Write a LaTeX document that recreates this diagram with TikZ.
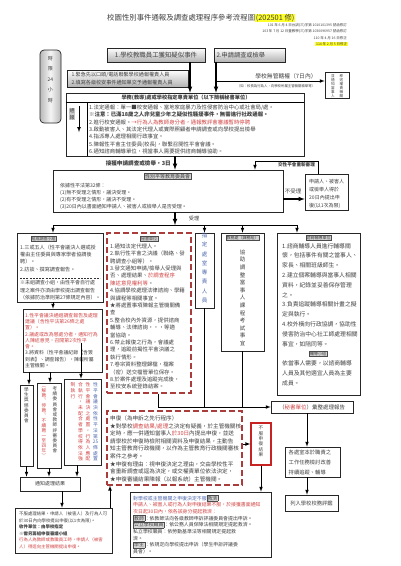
\documentclass[tikz,border=0pt]{standalone}
\usepackage{tikz}
\usepackage{fontspec}
\setmainfont{Noto Sans CJK TC}
\definecolor{ink}{RGB}{65,65,65}
\definecolor{redink}{RGB}{210,70,70}
\definecolor{blueink}{RGB}{80,105,175}
\definecolor{dashred}{RGB}{170,60,60}
\definecolor{boxred}{RGB}{200,35,35}
\definecolor{marker}{RGB}{255,255,40}
\setlength{\fboxsep}{0.6pt}
\setlength{\fboxrule}{0.3pt}
\newcommand\fsz[2]{\fontsize{#1}{#2}\selectfont}
\newcommand\redtx[1]{\textcolor{redink}{#1}}
\newcommand\bluetx[1]{\textcolor{blueink}{#1}}
\newcommand\boxtag[1]{\fcolorbox{black!70}{gray!30}{#1}}
% vertical text: one character per line
\newcommand\vstack[1]{\vstackfirst#1\relax}
\def\vstackfirst#1{#1\vstackloop}
\def\vstackloop#1{\ifx#1\relax\else\\#1\expandafter\vstackloop\fi}

\begin{document}
\begin{tikzpicture}[x=1pt, y=-1pt, >=latex,
    box/.style={draw=black!85, line width=0.7pt, inner sep=0pt, text=ink},
    shadebox/.style={box, top color=white, bottom color=gray!60},
    dashbox/.style={draw=dashred, line width=1.2pt, dash pattern=on 6pt off 3pt, inner sep=0pt},
    redbox/.style={draw=boxred, line width=1.4pt, inner sep=0pt},
    txt/.style={anchor=north west, inner sep=0pt, align=left, text=ink},
    vtxt/.style={anchor=north, inner sep=0pt, align=center, text=ink},
    note/.style={anchor=east, inner sep=0pt, text=ink, font=\fsz{3.5}{4}},
    lbl/.style={draw=black!70, fill=gray!35, line width=0.3pt, inner sep=0.7pt, text=ink, font=\fsz{4}{4.5}},
    flow/.style={draw=black, line width=0.7pt},
    mainflow/.style={draw=black, line width=1.1pt},
  ]
  \useasboundingbox (0,0) rectangle (400,566);
  \fill[white] (0,0) rectangle (400,566);

  % title and revisions
  \node[anchor=west, inner sep=0pt, text=ink, font=\fsz{7.4}{8}] (title) at (107,18) {校園性別事件通報及調查處理程序參考流程圖\colorbox{marker}{(202501 修)}};
  \node[note] (rev1) at (347,25) {101 年 6 月 4 日台訓(三)字第 1010101395 號函修訂};
  \node[note] (rev2) at (347,31) {103 年 7 月 12 日臺教學(三)字第 1030096957 號函修訂};
  \node[note] (rev3) at (347,38) {110 年 4 月 16 日修正};
  \node[note] (rev4) at (348,44) {\colorbox{marker}{114 年 2 月 5 日修正}};

  % time limit
  \node[box, rounded corners=4pt, minimum width=21, minimum height=73, left color=gray!55, right color=gray!55, middle color=gray!8] (limit) at (50.5,86.5) {};
  \node[vtxt, font=\fsz{5}{10.5}] (limittext) at (50.5,55.8) {\vstack{時限{24}小時}};

  % report
  \node[shadebox, minimum width=98, minimum height=14, font=\fsz{6.4}{7}] (rep1) at (156,55) {1.學校教職員工獲知疑似事件};
  \node[shadebox, minimum width=71, minimum height=14, text width=66, align=left, font=\fsz{6.2}{7}] (rep2) at (249.5,55) {2.申請調查或檢舉};
  \node[shadebox, minimum width=121, minimum height=17, text width=112, align=left, font=\fsz{5.1}{8}] (urgent) at (127.5,78.5) {1.緊急先以口頭/電話聯繫學校通報權責人員\\2.填寫各級校安事件通知單交予通報權責人員};
  \node[inner sep=0pt, text=ink, font=\fsz{5.8}{6}] (nojur) at (286,76) {學校無管轄權（7日內）};
  \node[inner sep=0pt, text=ink, font=\fsz{3.4}{4}] (nojurnote) at (276,86.5) {（如：校長為行為人，向學校所屬主管機關檢舉等）};
  \node[box, minimum width=24, minimum height=26] (transfer) at (337,85) {};
  \node[vtxt, font=\fsz{3.6}{3.9}] (transfer1) at (341.5,74.5) {\vstack{移送權責機關}};
  \node[vtxt, font=\fsz{3.6}{3.9}] (transfer2) at (333,74.5) {\vstack{並通知當事人}};

  % secretariat
  \node[box, minimum width=238, minimum height=63] (secr) at (185,124.5) {};
  \draw[flow] (secr.west |- 0,102) -- (secr.east |- 0,102);
  \draw[flow] (87,102) -- (secr.south -| 87,0);
  \node[inner sep=0pt, text=ink, font=\bfseries\fsz{5.2}{6}] (secrhead) at (186,97.5) {學務(教導)處或學校指定專責單位（以下簡稱秘書單位）};
  \node[fill=gray!40, inner sep=0.5pt, align=center, text=ink, font=\fsz{5}{7}] (repmark) at (72,114) {通\\報};
  \coordinate (repstart) at (79,106);
  \coordinate (repend) at (79,132);
  \node[txt, font=\fsz{5.4}{7.4}] (secrtext) at (89,104.6) {1.法定通報：單一■校安通報、當地家庭暴力及性侵害防治中心或社會局/處。\\
    \textbf{※注意：已滿18歲之人非兒童少年之疑似性騷擾事件，無需進行社政通報。}\\
    2.進行校安通報。\redtx{→行為人為教師身分者，通報教評會審議暫時停聘}\\
    3.啟動被害人、其法定代理人或實際照顧者申請調查或向學校提出檢舉\\
    4.指派專人處理相關行政事宜。\\
    5.陳報性平會主任委員(校長)，聯繫召開性平會會議。\\
    6.通知諮商輔導單位，視當事人需要提供諮商輔導協助。};
  \node[anchor=east, inner sep=0pt, text=ink, font=\bfseries\fsz{5.6}{6}] (threedays) at (171,163.5) {接獲申請調查或檢舉，3日};

  % gender equity committee
  \node[box, minimum width=230, minimum height=42] (gec) at (168,191) {};
  \node[lbl, font=\fsz{5}{5.5}] (geclabel) at (167.5,176.5) {性別平等教育委員會};
  \node[txt, font=\fsz{5}{7}] (gectext) at (60,182.8) {依據性平法第32條：\\(1)無不受理之情形，議決受理。\\(2)有不受理之情形，議決不受理。\\(3)20日內以書面通知申請人、被害人或檢舉人是否受理。};
  \node[box, minimum width=43, minimum height=36] (appeal1) at (326.5,192) {};
  \node[txt, font=\fsz{5}{8}] (appeal1text) at (309,178.7) {申請人、被害人\\或檢舉人得於\\20日內提出申\\復(以1次為限)};
  \node[inner sep=0pt, text=ink, font=\fsz{5.5}{6}] (rejectlabel) at (293,191.5) {不受理};
  \node[inner sep=0pt, text=ink, font=\bfseries\fsz{4.6}{5}] (rehear) at (296.5,165) {交性平會重新審理};
  \node[inner sep=0pt, text=ink, font=\fsz{5.2}{6}] (acceptlabel) at (194,219) {受理};

  % investigation
  \node[box, minimum width=86, minimum height=69] (inv) at (60,267.5) {};
  \node[lbl] (invlabel) at (43.5,239) {組成調查小組};
  \node[txt, font=\fsz{5.1}{7.3}] (invtext) at (20,244.8) {1.三或五人（性平會議決人選或授\\權由主任委員與專家學者協調後\\聘）。\\2.訪談、撰寫調查報告。};
  \draw[line width=1pt, dash pattern=on 2pt off 1.2pt, black!80] (20,278) -- (100,278);
  \node[txt, font=\fsz{5}{7.2}] (invnote) at (20,280.5) {※未組調查小組，由性平會自行處\\理之案件亦須由學校提出調查報告\\（依據防治準則第27條規定內容）。};

  \node[box, minimum width=79, minimum height=63] (resol) at (62.5,340.5) {};
  \node[txt, font=\fsz{4.9}{6.3}] (resoltext) at (25,312.8) {\redtx{1.性平會議決通過調查報告及處理}\\\redtx{建議（含性平法第26條之處}\\\redtx{置）。}\\
    \redtx{2.議處或改為懲處分者，通知行為}\\\redtx{人陳述意見，召開第2次性平}\\\redtx{會。}\\
    3.將資料（性平會議紀錄【含簽\\到表】、調查報告），陳報所屬\\主管機關。};

  \node[box, minimum width=13, minimum height=81] (stud) at (26.5,425.5) {};
  \node[vtxt, font=\fsz{4.6}{5.2}] (studtext) at (26.5,387.5) {\vstack{學生獎懲委員會}};
  \node[box, minimum width=24, minimum height=85] (staff) at (49,425.5) {};
  \node[vtxt, font=\fsz{4.6}{5.2}] (staff1) at (55,386.5) {\vstack{考績委員會或教師評審委員會}};
  \node[vtxt, font=\fsz{4.6}{5.0}, text=redink] (staff2) at (44,386.5) {\vstack{︵解聘︑停聘︑不續聘一至四年︶}};
  \node[box, minimum width=37, minimum height=86] (exec) at (82.5,422) {};
  \node[vtxt, font=\fsz{4.8}{5.7}, text=blueink] (exec1) at (95.5,382.5) {\vstack{性平會議決依性平法第{25}條處置}};
  \node[vtxt, font=\fsz{4.8}{5.7}, text=redink] (exec2) at (88,382.5) {\vstack{性平會議決之處置，行為人應配}};
  \node[vtxt, font=\fsz{4.8}{5.7}, text=redink] (exec3) at (80.5,382.5) {\vstack{合執行，未配合者學校得依法強}};
  \node[vtxt, font=\fsz{4.8}{5.7}, text=redink] (exec4) at (73,382.5) {\vstack{制執行}};
  \node[box, minimum width=60, minimum height=14, font=\fsz{5}{6}] (notify) at (50,484) {通知處理結果};
  \node[box, minimum width=97, minimum height=45] (appeal2) at (63.5,530.5) {};
  \node[txt, font=\fsz{4.4}{6.5}] (appeal2text) at (19,512) {不服處理結果，申請人（被害人）及行為人可\\於30日內向學校提出申復(以1次為限)。\\
    \textbf{收件單位：由學校指定}\\\textbf{※需另籌組申復審議小組}\\
    \redtx{行為人為教師或教職員工時，申請人（被害}\\\redtx{人）得逕向主管機關提出申復。}};

  % secretariat tasks
  \node[dashbox, minimum width=84, minimum height=160] (secwork) at (149,313) {};
  \node[lbl] (secworklabel) at (149,238.5) {秘書單位};
  \node[txt, font=\fsz{5.4}{7.4}] (secworktext) at (110,243.6) {1.通知法定代理人。\\2.執行性平會之決議（聯絡、發\\聘調查小組等）。\\
    3.發文通知申請/檢舉人受理與\\否、處理結果、\redtx{於調查程序}\\\redtx{陳述意見權利等}。\\
    4.協調學校處理法律諮詢、學籍\\與課程等相關事宜。\\
    ★將處置事項陳報主管機關備\\查\\
    5.整合校內外資源，提供諮商\\輔導、法律諮詢・・・等適\\當協助。\\
    6.禁止報復之行為，會議處\\理，追蹤前揭性平會決議之\\執行情形。\\
    7.卷宗資料整理歸檔，檔案\\（密）送交檔管單位保存。\\
    8.於案件處理及追蹤完成後，\\至校安系統登錄結案。};

  \node[box, minimum width=19, minimum height=75] (assign) at (204.5,270.5) {};
  \node[vtxt, font=\fsz{5.5}{9.3}, text=blueink] (assigntext) at (204.5,232.6) {\vstack{指定處室專責人員}};
  \node[box, minimum width=43, minimum height=118] (acad) at (242.5,292) {};
  \node[lbl] (acadlabel) at (242.5,237.5) {教務處（課務組）};
  \node[vtxt, font=\fsz{5.5}{7.6}] (acadtext) at (242.5,249.5) {\vstack{協助調整當事人課程考試事宜}};

  \node[box, minimum width=83, minimum height=162] (couns) at (318.5,314) {};
  \node[lbl] (counslabel) at (318.5,237.5) {諮商輔導單位};
  \node[txt, font=\fsz{5.8}{9.8}] (counstext) at (282,242.9) {1.諮商輔導人員進行輔導關\\懷，包括事件有關之當事人、\\家長、相關班級師生。\\
    2.建立個案輔導與當事人相關\\資料，紀錄並妥善保存管理\\之。\\
    3.負責追蹤輔導相關計畫之擬\\定與執行。\\
    4.校外橫向行政協調，協助性\\侵害防治中心社工師處理相關\\事宜，如陪同等。};
  \node[lbl] (counslabel2) at (318,354) {輔導小組};
  \node[txt, font=\fsz{5.8}{9.8}] (counstext2) at (282,360.4) {依當事人需要，以諮商輔導\\人員及其他適宜人員為主要\\成員。};

  % review
  \node[dashbox, minimum width=135, minimum height=74] (review) at (174.5,448) {};
  \node[txt, font=\fsz{5.6}{7.6}] (reviewtext) at (110,415.5) {申復（為申訴之先行程序）\\
    ★對學校\redtx{調查結果/處理}之決定有疑義，於主管機關核\\
    定時，應一併通知當事人\redtx{於30日}內提出申復，並送\\
    請學校於申復時檢附相關資料及申復結果，主動告\\
    知主管教育行政機關，以作為主管教育行政機關審核\\
    案件之參考。\\
    ★申復有理由：視申復決定之理由，交由學校性平\\
    會重新調查或逕為決定，或交權責單位依法決定，\\
    ★申復審議結果陳報（以報系統）主管機關。};
  \node[redbox, minimum width=20, minimum height=42] (refuse) at (261,444) {};
  \node[vtxt, font=\fsz{4.6}{5.4}] (refusetext) at (261,426) {\vstack{不服申復結果}};
  \node[box, minimum width=141, minimum height=65] (remedy) at (200.5,524.5) {};
  \node[txt, font=\fsz{4.9}{6.7}] (remedytext) at (133,494.8) {\bluetx{對學校或主管機關之申復決定不服}\boxtag{救濟}\\
    \redtx{申請人、被害人或行為人對申復結果不服，於接獲書面通知}\\
    \redtx{次日起30日內，依各該身分提起救濟：}\\
    \boxtag{教師}：依教師法向各級教師申訴評議委員會提出申訴。\\
    \boxtag{公立學校職員}：依公務人員保障法相關規定提起救濟。\\
    私立學校職員：依勞動基準法等相關規定提起救\\
    濟。\\
    \boxtag{學生}：依規定向學校提出申訴（學生申訴評議委\\
    員會）。};

  % report and follow-up
  \node[box, minimum width=82, minimum height=12, font=\fsz{5.5}{6}] (report) at (312,407) {（\redtx{秘書單位}）彙整處理報告};
  \node[box, minimum width=55, minimum height=30] (improve) at (312.5,462) {};
  \node[txt, font=\fsz{5.3}{10.3}] (improvetext) at (288.5,449.6) {各處室本於職責之\\工作任務檢討改善\\持續追蹤、輔導};
  \node[box, minimum width=53, minimum height=16, font=\fsz{5.3}{6}] (eval) at (311.5,503) {列入學校校務評鑑};

  % connectors
  \coordinate (split) at (216,81);
  \coordinate (accept) at (175,225);
  \coordinate (busleft) at (53,225);
  \coordinate (busright) at (297,225);
  \coordinate (second) at (81,343);
  \coordinate (collect) at (158,407);
  \draw[->, mainflow] (rep1.south -| 190,0) -- (secr.north -| 190,0);
  \draw[->, mainflow] (rep2.south -| split) -- (secr.north -| split);
  \draw[->, flow] (split) -- (transfer.west |- split);
  \draw[->, flow] (repstart) -- (repend);
  \draw[->, mainflow] (secr.south -| accept) -- (gec.north -| accept);
  \draw[->, mainflow] (gec.east |- 0,199) -- (appeal1.west |- 0,199);
  \draw[->, flow] (appeal1.north -| 318,0) -- (318,161) -- (255,161) -- (gec.north -| 255,0);
  \draw[->, mainflow] (gec.south -| accept) -- (accept);
  \draw[flow] (busleft) -- (busright);
  \draw[->, flow] (busleft) -- (inv.north -| busleft);
  \draw[->, flow] (assign.north |- accept) -- (assign.north);
  \draw[->, flow] (acad.north |- accept) -- (acad.north);
  \draw[->, flow] (busright) -- (couns.north -| busright);
  \draw[->, flow] (inv.south -| busleft) -- (resol.north -| busleft);
  \draw[->, flow] (resol.south -| 29,0) -- (stud.north -| 29,0);
  \draw[->, flow] (resol.south -| 50,0) -- (staff.north -| 50,0);
  \draw[->, flow] (second) -- (exec.north -| second);
  \draw[->, flow] (stud.south) -- (notify.north -| stud.south);
  \draw[->, flow] (staff.south) -- (notify.north -| staff.south);
  \draw[->, flow] (exec.south -| 77,0) -- (notify.north -| 77,0);
  \draw[->, flow] (notify.south -| 62,0) -- (appeal2.north -| 62,0);
  \draw[->, flow] (appeal2.north -| 110,0) -- (review.south -| 110,0);
  \draw[->, flow] (review.east |- refuse) -- (refuse.west);
  \draw[->, flow] (refuse.south) -- (remedy.north -| refuse.south);
  \draw[flow] (secwork.south -| collect) -- (collect);
  \draw[flow] (assign.south) -- (assign.south |- collect);
  \draw[flow] (acad.south) -- (acad.south |- collect);
  \draw[->, flow] (collect) -- (report.west);
  \draw[->, flow] (report.south -| 307,0) -- (improve.north -| 307,0);
  \draw[->, flow] (improve.south -| 307,0) -- (eval.north -| 307,0);
\end{tikzpicture}
\end{document}
